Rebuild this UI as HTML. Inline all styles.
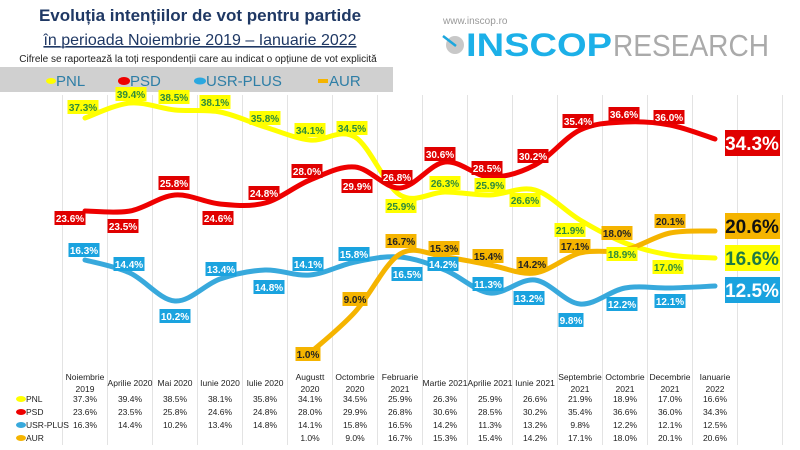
<!DOCTYPE html>
<html><head><meta charset="utf-8"><style>
body{margin:0;background:#fff;width:800px;height:450px;overflow:hidden;font-family:"Liberation Sans",sans-serif}
svg{display:block}
</style></head><body>
<svg id="s" width="800" height="450" xmlns="http://www.w3.org/2000/svg" font-family="Liberation Sans, sans-serif">
<g id="grid" stroke="#e3e3e3" stroke-width="1"></g>
<rect x="0" y="67" width="393" height="25" fill="#d0d0d0"/>
<text x="200" y="21" text-anchor="middle" font-size="17" font-weight="bold" fill="#1f3864">Evoluția intențiilor de vot pentru partide</text>
<text x="200" y="45" text-anchor="middle" font-size="16" fill="#1f3864" text-decoration="underline">în perioada Noiembrie 2019 – Ianuarie 2022</text>
<line x1="52" y1="47" x2="349" y2="47" stroke="#1f3864" stroke-width="1"/>
<text x="198" y="62" text-anchor="middle" font-size="10" fill="#222">Cifrele se raportează la toți respondenții care au indicat o opțiune de vot explicită</text>
<g font-size="15" fill="#2e7ea6">
<ellipse cx="51" cy="81" rx="5" ry="3" fill="#ffff00"/><text x="56" y="86">PNL</text>
<ellipse cx="124" cy="81" rx="6" ry="4" fill="#e00"/><text x="130" y="86">PSD</text>
<ellipse cx="200" cy="81" rx="6" ry="3.5" fill="#2aa8e0"/><text x="206" y="86">USR-PLUS</text>
<rect x="318" y="79" width="10" height="4" fill="#f5b400"/><text x="329" y="86">AUR</text>
</g>
<text x="443" y="24" font-size="10" fill="#999">www.inscop.ro</text>
<circle cx="455" cy="45" r="9" fill="#c8c8c8"/>
<line x1="443" y1="36" x2="456" y2="46" stroke="#1ca6dd" stroke-width="2.5"/>
<text x="466" y="56" font-size="32" font-weight="bold" fill="#1cb0e8" textLength="146" lengthAdjust="spacingAndGlyphs">INSCOP</text>
<text x="613" y="56" font-size="31" fill="#aaa" textLength="156" lengthAdjust="spacingAndGlyphs">RESEARCH</text>
<g id="lines" fill="none" stroke-width="5" stroke-linecap="round"></g>
<g id="labels" font-weight="bold" text-anchor="middle"></g>
<g id="table" font-size="8.5" fill="#222" text-anchor="middle"></g>
</svg>
<script>
var NS="http://www.w3.org/2000/svg";
function el(p,t,a,txt){var e=document.createElementNS(NS,t);for(var k in a)e.setAttribute(k,a[k]);if(txt!=null)e.textContent=txt;document.getElementById(p).appendChild(e);return e;}
for(var i=0;i<=16;i++){var x=62.5+45*i;el("grid","line",{x1:x,y1:95,x2:x,y2:445});}
var X=function(i){return 85+45*i;};
var S={
pnl:{c:"#ffff00",y:[118,103,110,112,127,140,137,195,192,195,190,220,243,255,258]},
psd:{c:"#ee0000",y:[211,211,195,204,203,180,167,188,162,177,165,130,122,125,139]},
usr:{c:"#38a9dc",y:[260,273,301,279,270,275,262,257,270,293,280,304,288,288,286]},
aur:{c:"#f5b400",y:[null,null,null,null,null,353,312,254,257,265,273,253,250,233,231]}};
for(var k in S){var p=[];S[k].y.forEach(function(y,i){if(y!=null)p.push([X(i),y]);});
var d="M"+p[0][0]+","+p[0][1];for(var i=0;i<p.length-1;i++){var p0=p[i-1]||p[i],p1=p[i],p2=p[i+1],p3=p[i+2]||p2;
d+=" C"+(p1[0]+(p2[0]-p0[0])/6)+","+(p1[1]+(p2[1]-p0[1])/6)+" "+(p2[0]-(p3[0]-p1[0])/6)+","+(p2[1]-(p3[1]-p1[1])/6)+" "+p2[0]+","+p2[1];}
el("lines","path",{d:d,stroke:S[k].c});}
var L=[
["#ffff00","#2e8b3c",[[83,107,"37.3%"],[131,94,"39.4%"],[174,97,"38.5%"],[215,102,"38.1%"],[265,118,"35.8%"],[310,130,"34.1%"],[352,128,"34.5%"],[401,206,"25.9%"],[445,183,"26.3%"],[490,185,"25.9%"],[525,200,"26.6%"],[570,230,"21.9%"],[622,254,"18.9%"],[668,267,"17.0%"]]],
["#e00000","#fff",[[70,218,"23.6%"],[123,226,"23.5%"],[174,183,"25.8%"],[218,218,"24.6%"],[264,193,"24.8%"],[307,171,"28.0%"],[357,186,"29.9%"],[397,177,"26.8%"],[440,154,"30.6%"],[487,168,"28.5%"],[533,156,"30.2%"],[578,121,"35.4%"],[624,114,"36.6%"],[669,117,"36.0%"]]],
["#1aa3df","#fff",[[84,250,"16.3%"],[129,264,"14.4%"],[175,316,"10.2%"],[221,269,"13.4%"],[269,287,"14.8%"],[308,264,"14.1%"],[354,254,"15.8%"],[407,274,"16.5%"],[443,264,"14.2%"],[488,284,"11.3%"],[529,298,"13.2%"],[571,320,"9.8%"],[622,304,"12.2%"],[670,301,"12.1%"]]],
["#f5b400","#222",[[308,354,"1.0%"],[355,299,"9.0%"],[401,241,"16.7%"],[444,248,"15.3%"],[488,256,"15.4%"],[532,264,"14.2%"],[575,246,"17.1%"],[617,233,"18.0%"],[670,221,"20.1%"]]]];
L.forEach(function(s){s[2].forEach(function(a){var w=a[2].length>4?31:25;
el("labels","rect",{x:a[0]-w/2,y:a[1]-7,width:w,height:14,fill:s[0]});
el("labels","text",{x:a[0],y:a[1]+4,"font-size":10,fill:s[1]},a[2]);});});
[["#e00000","#fff",143,"34.3%"],["#f5b400","#111",226,"20.6%"],["#ffff00","#1e7a45",258,"16.6%"],["#1aa3df","#fff",290,"12.5%"]].forEach(function(b){
el("labels","rect",{x:725,y:b[2]-13,width:55,height:26,fill:b[0]});
el("labels","text",{x:752,y:b[2]+7,"font-size":19,fill:b[1]},b[3]);});
var H=[["Noiembrie","2019"],["Aprilie 2020"],["Mai 2020"],["Iunie 2020"],["Iulie 2020"],["Augustt","2020"],["Octombrie","2020"],["Februarie","2021"],["Martie 2021"],["Aprilie 2021"],["Iunie 2021"],["Septembrie","2021"],["Octombrie","2021"],["Decembrie","2021"],["Ianuarie","2022"]];
H.forEach(function(h,i){if(h.length==2){el("table","text",{x:X(i),y:380},h[0]);el("table","text",{x:X(i),y:392},h[1]);}else el("table","text",{x:X(i),y:386},h[0]);});
var R=[["PNL","#ffff00",[37.3,39.4,38.5,38.1,35.8,34.1,34.5,25.9,26.3,25.9,26.6,21.9,18.9,17.0,16.6]],
["PSD","#e00",[23.6,23.5,25.8,24.6,24.8,28.0,29.9,26.8,30.6,28.5,30.2,35.4,36.6,36.0,34.3]],
["USR-PLUS","#38a9dc",[16.3,14.4,10.2,13.4,14.8,14.1,15.8,16.5,14.2,11.3,13.2,9.8,12.2,12.1,12.5]],
["AUR","#f5b400",[null,null,null,null,null,1.0,9.0,16.7,15.3,15.4,14.2,17.1,18.0,20.1,20.6]]];
R.forEach(function(r,j){var y=402+13*j;
el("table","ellipse",{cx:21,cy:y-3,rx:5,ry:3,fill:r[1]});
el("table","text",{x:26,y:y,"text-anchor":"start"},r[0]);
r[2].forEach(function(v,i){if(v!=null)el("table","text",{x:X(i),y:y},v.toFixed(1)+"%");});});
</script>
</body></html>
